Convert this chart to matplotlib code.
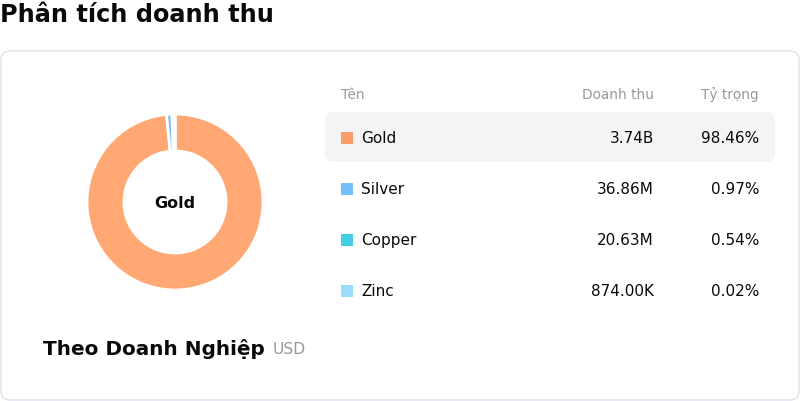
import matplotlib.pyplot as plt
from matplotlib.patches import FancyBboxPatch, Rectangle

plt.rcParams['font.family'] = 'DejaVu Sans'

names = ["Gold", "Silver", "Copper", "Zinc"]
revenue_labels = ["3.74B", "36.86M", "20.63M", "874.00K"]
shares = [98.46, 0.97, 0.54, 0.02]
pie_colors = ['#FFA873', '#74C0FC', '#3ECFE3', '#99DDFB']
legend_colors = ['#F99B6B', '#74C0FC', '#40D0E2', '#99DDFB']

W, H = 800, 402
fig = plt.figure(figsize=(8, 4.02), dpi=100)

# background layer in pixel coords
bg = fig.add_axes([0, 0, 1, 1])
bg.set_xlim(0, W)
bg.set_ylim(H, 0)
bg.axis('off')

bg.text(0, 15, "Phân tích doanh thu", fontsize=17.3, fontweight='bold',
        ha='left', va='center', color='#0a0a0a')

card = FancyBboxPatch((1, 52), 798, 349, boxstyle="round,pad=0,rounding_size=9",
                      facecolor='white', edgecolor='#E2E0EC', linewidth=1)
bg.add_patch(card)

# table header
bg.text(341, 95, "Tên", fontsize=9.8, color='#999999', ha='left', va='center')
bg.text(654, 95, "Doanh thu", fontsize=9.8, color='#999999', ha='right', va='center')
bg.text(759, 95, "Tỷ trọng", fontsize=9.8, color='#999999', ha='right', va='center')

# highlighted first row
hl = FancyBboxPatch((325, 113), 450, 50, boxstyle="round,pad=0,rounding_size=9",
                    facecolor='#F4F4F4', edgecolor='none')
bg.add_patch(hl)

row_y = [138.5, 189.5, 240.5, 291.5]
for i, name in enumerate(names):
    y = row_y[i]
    bg.add_patch(Rectangle((341, y - 6), 12, 12, facecolor=legend_colors[i], edgecolor='none'))
    bg.text(361, y, name, fontsize=11, color='#0a0a0a', ha='left', va='center')
    bg.text(654, y, revenue_labels[i], fontsize=11, color='#0a0a0a', ha='right', va='center')
    bg.text(759, y, f"{shares[i]:.2f}%", fontsize=11, color='#0a0a0a', ha='right', va='center')

# caption under donut
bg.text(43, 349, "Theo Doanh Nghiệp", fontsize=14.4, fontweight='bold',
        color='#0a0a0a', ha='left', va='center')
bg.text(273, 349.5, "USD", fontsize=11.2, color='#999999', ha='left', va='center')

# donut
cx, cy, r = 175, 203, 88
pie_ax = fig.add_axes([(cx - r) / W, (H - cy - r) / H, 2 * r / W, 2 * r / H])
pie_ax.pie(shares, colors=pie_colors, startangle=90, counterclock=False,
           wedgeprops=dict(width=0.42, edgecolor='white', linewidth=2))
pie_ax.set_xlim(-1, 1)
pie_ax.set_ylim(-1, 1)
pie_ax.axis('off')
pie_ax.text(0, 0, "Gold", fontsize=11.5, fontweight='bold', ha='center', va='center',
            color='#0a0a0a')

fig.savefig("out.png", dpi=100)
